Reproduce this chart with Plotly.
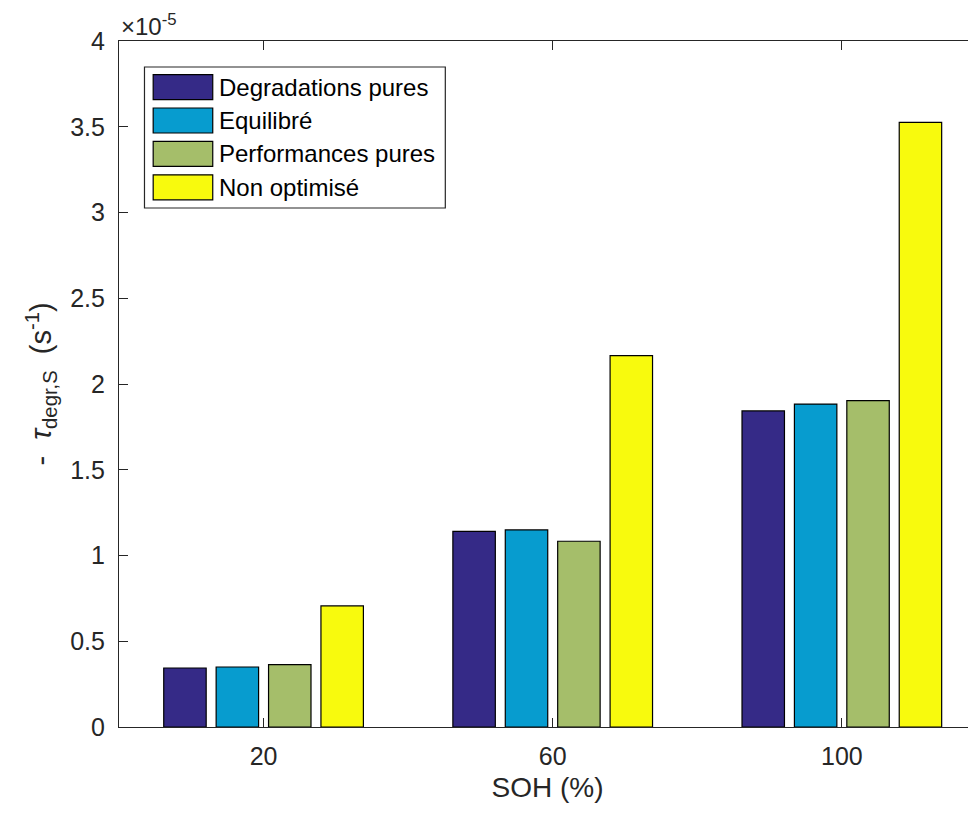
import plotly.graph_objects as go

soh = [20, 60, 100]
series_names = ["Degradations pures", "Equilibré", "Performances pures", "Non optimisé"]
degradations_pures = [0.344e-5, 1.141e-5, 1.843e-5]
equilibre = [0.350e-5, 1.149e-5, 1.883e-5]
performances_pures = [0.364e-5, 1.083e-5, 1.903e-5]
non_optimise = [0.706e-5, 2.165e-5, 3.526e-5]
series_values = [degradations_pures, equilibre, performances_pures, non_optimise]
colors = ["#352A87", "#079CCF", "#A5BE6A", "#F8FA0D"]

y_tickvals = [0, 0.5e-5, 1e-5, 1.5e-5, 2e-5, 2.5e-5, 3e-5, 3.5e-5, 4e-5]
y_ticktext = ["0", "0.5", "1", "1.5", "2", "2.5", "3", "3.5", "4"]
x_tickvals = [20, 60, 100]
x_ticktext = ["20", "60", "100"]

FONT = "Liberation Sans, Arial, sans-serif"
AX = "#262626"

fig = go.Figure()
for name, vals, col in zip(series_names, series_values, colors):
    fig.add_trace(go.Bar(x=soh, y=vals, name=name,
                         marker=dict(color=col, line=dict(color="#000000", width=1.2)),
                         showlegend=False))

# page offset of the plot div (browser body margin)
OFF = 8
W, H = 976 - OFF, 813 - OFF
ml, mr, mt, mb = 118.5 - OFF, 0, 40.7 - OFF, 86.3
pw = W - ml - mr
ph = H - mt - mb

def px_x(p):
    return (p - OFF - ml) / pw

def px_y(p):
    return 1 - (p - OFF - mt) / ph

fig.update_layout(
    width=W, height=H,
    margin=dict(l=ml, r=mr, t=mt, b=mb, pad=0, autoexpand=False),
    paper_bgcolor="white", plot_bgcolor="white",
    barmode="group", bargap=0.275, bargroupgap=0.19,
    font=dict(family=FONT, size=25, color=AX),
    xaxis=dict(range=[0, 118.56], tickvals=x_tickvals, ticktext=x_ticktext,
               ticks="inside", ticklen=9, tickwidth=1.2, tickcolor=AX,
               showline=True, linecolor=AX, linewidth=1.2, mirror="ticks",
               showgrid=False, zeroline=False, ticklabelstandoff=7,
               title=dict(text="SOH (%)", font=dict(size=28, color=AX), standoff=8)),
    yaxis=dict(range=[0, 4e-5], tickvals=y_tickvals, ticktext=y_ticktext,
               ticks="inside", ticklen=9, tickwidth=1.2, tickcolor=AX,
               showline=True, linecolor=AX, linewidth=1.2,
               showgrid=False, zeroline=False, ticklabelstandoff=8),
)

# y-axis title
fig.add_annotation(xref="paper", yref="paper", x=px_x(40), y=px_y(383.7),
                   text="-  <i>τ</i><sub>degr,S</sub>  (s<sup>-1</sup>)", textangle=-90,
                   showarrow=False, xanchor="center", yanchor="middle",
                   font=dict(size=29, color=AX))
# exponent label
fig.add_annotation(xref="paper", yref="paper", x=px_x(120), y=px_y(25),
                   text="×10<sup>-5</sup>", showarrow=False, xanchor="left", yanchor="middle",
                   borderpad=0, font=dict(size=24, color=AX))

# legend box
lx0, ly0, lx1, ly1 = 144, 66.7, 445, 207.7
fig.add_shape(type="rect", xref="paper", yref="paper", x0=px_x(lx0), x1=px_x(lx1),
              y0=px_y(ly1), y1=px_y(ly0), line=dict(color=AX, width=1.2), fillcolor="white", layer="above")
for i, (name, col) in enumerate(zip(series_names, colors)):
    top = 74.3 + i * 33.4
    fig.add_shape(type="rect", xref="paper", yref="paper", x0=px_x(152.7), x1=px_x(212.3),
                  y0=px_y(top + 25), y1=px_y(top), line=dict(color="#000000", width=1.2),
                  fillcolor=col, layer="above")
    fig.add_annotation(xref="paper", yref="paper", x=px_x(217), y=px_y(top + 12.5),
                       text=name, showarrow=False, xanchor="left", yanchor="middle",
                       font=dict(size=24, color="#000000"))

fig.write_html("out.html")
